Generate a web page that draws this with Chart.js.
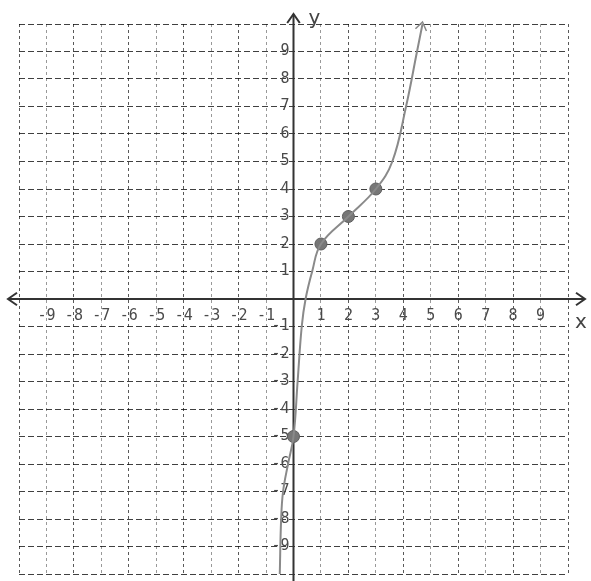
<!DOCTYPE html>
<html>
<head>
<meta charset="utf-8">
<script src="https://cdn.jsdelivr.net/npm/chart.js@4.4.1/dist/chart.umd.min.js"></script>
<style>
  html, body { margin: 0; padding: 0; background: #fff; }
  #wrap { width: 591px; height: 581px; position: relative; }
</style>
</head>
<body>
<div id="wrap"><canvas id="graph"></canvas></div>
<script>
// axis range and tick labels
const axisMin = -10;
const axisMax = 10;
const xTickLabels = [-9, -8, -7, -6, -5, -4, -3, -2, -1, 1, 2, 3, 4, 5, 6, 7, 8, 9];
const yTickLabels = [-9, -8, -7, -6, -5, -4, -3, -2, -1, 1, 2, 3, 4, 5, 6, 7, 8, 9];

// plotted points
const pointX = [0, 1, 2, 3];
const pointY = [-5, 2, 3, 4];

// hand drawn curve through the points
const curveX = [-0.5, -0.45, -0.38, -0.2, 0, 0.15, 0.3, 0.44, 0.68, 1, 2, 3, 3.6, 4.1, 4.5, 4.7];
const curveY = [-10, -8, -7, -6, -5, -3, -1, 0, 1, 2, 3, 4, 5, 7, 9, 10];

const labelFont = '15px "DejaVu Sans Mono"';
const axisColor = '#333';

function arrowHead(ctx, x, y, angle, size) {
    ctx.save();
    ctx.translate(x, y);
    ctx.rotate(angle);
    ctx.beginPath();
    ctx.moveTo(-size, -size * 0.7);
    ctx.lineTo(0, 0);
    ctx.lineTo(-size, size * 0.7);
    ctx.stroke();
    ctx.restore();
}

// draws both axes with arrows and the numbers along them
const axesPlugin = {
    id: 'axes',
    beforeDatasetsDraw(chart) {
        const ctx = chart.ctx;
        const xs = chart.scales.x;
        const ys = chart.scales.y;
        const x0 = xs.getPixelForValue(0);
        const y0 = ys.getPixelForValue(0);

        ctx.save();
        ctx.strokeStyle = axisColor;
        ctx.lineWidth = 2;
        ctx.setLineDash([]);

        // x axis
        ctx.beginPath();
        ctx.moveTo(8, y0);
        ctx.lineTo(chart.width - 6, y0);
        ctx.stroke();
        arrowHead(ctx, 8, y0, Math.PI, 9);
        arrowHead(ctx, chart.width - 6, y0, 0, 9);

        // y axis
        ctx.beginPath();
        ctx.moveTo(x0, chart.height);
        ctx.lineTo(x0, 14);
        ctx.stroke();
        arrowHead(ctx, x0, 14, -Math.PI / 2, 9);

        // tick numbers
        ctx.fillStyle = '#4a4a4a';
        ctx.font = labelFont;
        ctx.textAlign = 'center';
        ctx.textBaseline = 'middle';
        xTickLabels.forEach(v => {
            ctx.fillText(String(v), xs.getPixelForValue(v), y0 + 17);
        });
        ctx.textAlign = 'right';
        yTickLabels.forEach(v => {
            ctx.fillText(String(v), x0 - 4, ys.getPixelForValue(v));
        });

        // axis names
        ctx.fillStyle = '#444';
        ctx.font = '20px "DejaVu Sans"';
        ctx.textAlign = 'left';
        ctx.fillText('x', chart.width - 16, y0 + 24);
        ctx.fillText('y', x0 + 15, 19);
        ctx.restore();
    },
    afterDatasetsDraw(chart) {
        // open arrow at the top end of the curve
        const pts = chart.getDatasetMeta(0).data;
        const a = pts[pts.length - 2];
        const b = pts[pts.length - 1];
        const ctx = chart.ctx;
        ctx.save();
        ctx.strokeStyle = '#888';
        ctx.lineWidth = 1.5;
        arrowHead(ctx, b.x, b.y - 2, Math.atan2(b.y - a.y, b.x - a.x), 8);
        ctx.restore();
    }
};

const curveData = curveX.map((x, i) => ({ x: x, y: curveY[i] }));
const pointData = pointX.map((x, i) => ({ x: x, y: pointY[i] }));

function gridScale(axis) {
    return {
        type: 'linear',
        min: axisMin,
        max: axisMax,
        ticks: { display: false, stepSize: 1 },
        grid: {
            drawTicks: false,
            lineWidth: 1,
            color: ctx => {
                const v = ctx.tick ? ctx.tick.value : 0;
                if (axis === 'y') return 'rgba(0,0,0,0.75)';
                return Math.abs(v) % 2 === 1 ? 'rgba(0,0,0,0.4)' : 'rgba(0,0,0,0.65)';
            }
        },
        border: { display: false, dash: axis === 'y' ? [6, 3] : [3, 3] },
        afterFit: s => {
            if (axis === 'x') s.height = 0; else s.width = 0;
        }
    };
}

new Chart(document.getElementById('graph'), {
    type: 'scatter',
    data: {
        datasets: [
            {
                label: 'curve',
                data: curveData,
                showLine: true,
                borderColor: '#8a8a8a',
                borderWidth: 2,
                pointRadius: 0,
                tension: 0.4,
                fill: false
            },
            {
                label: 'points',
                data: pointData,
                pointRadius: 6,
                pointBackgroundColor: '#777',
                pointBorderColor: '#5e5e5e',
                pointBorderWidth: 1
            }
        ]
    },
    options: {
        responsive: true,
        maintainAspectRatio: false,
        animation: false,
        layout: { padding: { left: 19, right: 23, top: 24, bottom: 3 } },
        plugins: {
            legend: { display: false },
            tooltip: { enabled: false }
        },
        scales: {
            x: gridScale('x'),
            y: gridScale('y')
        }
    },
    plugins: [axesPlugin]
});
</script>
</body>
</html>
